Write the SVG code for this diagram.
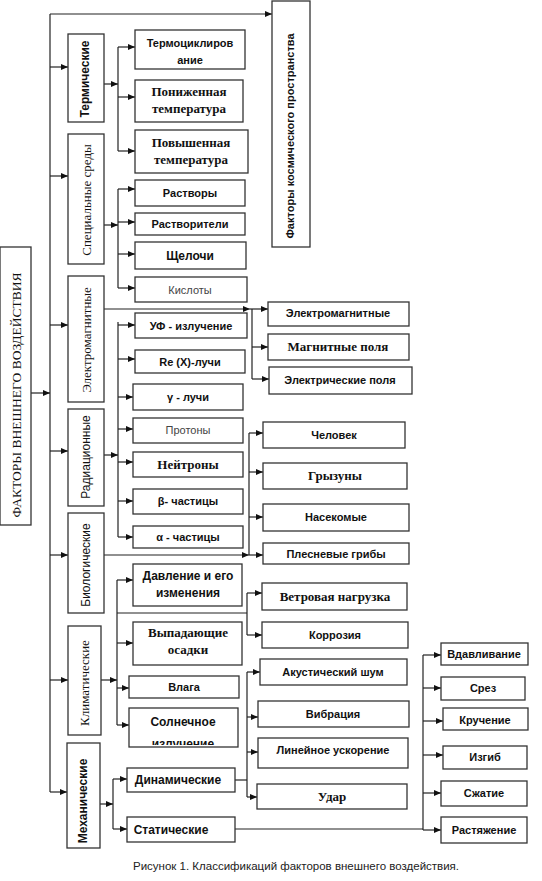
<svg xmlns="http://www.w3.org/2000/svg" width="542" height="881" viewBox="0 0 542 881">
<style>
rect{fill:#fff;stroke:#333;stroke-width:1.3}
text{fill:#111;text-anchor:middle}
.s{font-family:"Liberation Sans",Arial,sans-serif;font-size:11px;font-weight:bold}
.n{font-family:"Liberation Sans",Arial,sans-serif;font-size:11px;fill:#444}
.r{font-family:"Liberation Serif","Times New Roman",serif;font-size:13px;font-weight:bold}
.rn{font-family:"Liberation Serif","Times New Roman",serif;font-size:13px}
.v{dominant-baseline:central}
.c path{fill:none;stroke:#222;stroke-width:1.2}
.a{marker-end:url(#ar)}
</style>
<defs>
<marker id="ar" markerUnits="userSpaceOnUse" markerWidth="7" markerHeight="6" refX="7" refY="3" orient="auto"><path d="M0,0L7,3L0,6z" fill="#111"/></marker>
<clipPath id="clipSun"><rect x="129" y="708" width="109" height="37"/></clipPath>
</defs>

<g class="c" id="connectors">
<path d="M50,14V792"/>
<path class="a" d="M50,14H272"/>
<path class="a" d="M31,393H50"/>
<path class="a" d="M50,67H68"/>
<path class="a" d="M50,176H68"/>
<path class="a" d="M50,325H68"/>
<path class="a" d="M50,451H68"/>
<path class="a" d="M50,555H68"/>
<path class="a" d="M50,680H68"/>
<path class="a" d="M50,792H67"/>
<path class="a" d="M104,84H118"/>
<path d="M118,47V151"/>
<path class="a" d="M118,47H135"/>
<path class="a" d="M118,97H135"/>
<path class="a" d="M118,151H135"/>
<path class="a" d="M104,225H118"/>
<path d="M118,189V288"/>
<path class="a" d="M118,189H135"/>
<path class="a" d="M118,222H135"/>
<path class="a" d="M118,254H135"/>
<path class="a" d="M118,288H135"/>
<path class="a" d="M104,309H250"/>
<path class="a" d="M250,309H268"/>
<path d="M252,309V379"/>
<path class="a" d="M252,347H268"/>
<path class="a" d="M252,379H269"/>
<path class="a" d="M104,455H118"/>
<path d="M118,322V537"/>
<path class="a" d="M118,325H135"/>
<path class="a" d="M118,359H135"/>
<path class="a" d="M118,397H133"/>
<path class="a" d="M118,429H133"/>
<path class="a" d="M118,462H133"/>
<path class="a" d="M118,501H133"/>
<path class="a" d="M118,537H133"/>
<path class="a" d="M104,555H249"/>
<path class="a" d="M249,555H263"/>
<path d="M249,433V555"/>
<path class="a" d="M249,433H263"/>
<path class="a" d="M249,472H263"/>
<path class="a" d="M249,517H263"/>
<path class="a" d="M101,680H117"/>
<path d="M117,580V725"/>
<path class="a" d="M117,580H133"/>
<path class="a" d="M117,643H133"/>
<path class="a" d="M117,688H129"/>
<path class="a" d="M117,725H129"/>
<path d="M117,613H247"/>
<path d="M247,593V635"/>
<path class="a" d="M247,593H262"/>
<path class="a" d="M247,635H262"/>
<path class="a" d="M100,804H113"/>
<path d="M113,779V829"/>
<path class="a" d="M113,779H127"/>
<path class="a" d="M113,829H127"/>
<path d="M235,780H247"/>
<path d="M247,672V797"/>
<path class="a" d="M247,672H260"/>
<path class="a" d="M247,717H258"/>
<path class="a" d="M247,752H258"/>
<path class="a" d="M247,797H257"/>
<path d="M235,829H423"/>
<path d="M423,655V830"/>
<path class="a" d="M423,655H441"/>
<path class="a" d="M423,688H441"/>
<path class="a" d="M423,721H443"/>
<path class="a" d="M423,755H443"/>
<path class="a" d="M423,793H441"/>
<path class="a" d="M423,830H441"/>
</g>

<g id="main"><rect x="0" y="247" width="31" height="278"/><text class="rn v" style="font-size:13.5px" transform="translate(16,395) rotate(-90)">ФАКТОРЫ ВНЕШНЕГО ВОЗДЕЙСТВИЯ</text></g>
<g id="cosmos"><rect x="272" y="1" width="38" height="246"/><text class="s v" transform="translate(290,136) rotate(-90)">Факторы космического пространства</text></g>

<g id="thermal"><rect x="68" y="34" width="36" height="88"/><text class="s v" style="font-size:12px" transform="translate(85,79) rotate(-90)">Термические</text></g>
<g id="special"><rect x="68" y="134" width="36" height="130"/><text class="rn v" transform="translate(86,200) rotate(-90)">Специальные среды</text></g>
<g id="em"><rect x="68" y="276" width="36" height="126"/><text class="rn v" transform="translate(86,340) rotate(-90)">Электромагнитные</text></g>
<g id="rad"><rect x="68" y="409" width="36" height="97"/><text class="s v" style="font-size:12px;font-weight:normal" transform="translate(86,457) rotate(-90)">Радиационные</text></g>
<g id="bio"><rect x="68" y="513" width="36" height="100"/><text class="s v" style="font-size:12px;font-weight:normal" transform="translate(86,565) rotate(-90)">Биологические</text></g>
<g id="climate"><rect x="68" y="626" width="33" height="109"/><text class="rn v" transform="translate(84,683) rotate(-90)">Климатические</text></g>
<g id="mech"><rect x="67" y="743" width="33" height="105"/><text class="s v" style="font-size:12px" transform="translate(83,801) rotate(-90)">Механические</text></g>

<g id="thermocycle"><rect x="135" y="30" width="110" height="39"/><text class="s" x="190" y="47">Термоциклиров</text><text class="s" x="190" y="64">ание</text></g>
<g id="lowtemp"><rect x="135" y="80" width="108" height="42"/><text class="r" x="189" y="96">Пониженная</text><text class="r" x="189" y="113">температура</text></g>
<g id="hightemp"><rect x="135" y="130" width="113" height="43"/><text class="r" x="191" y="147">Повышенная</text><text class="r" x="191" y="164">температура</text></g>

<g id="solutions"><rect x="135" y="180" width="110" height="26"/><text class="s" x="190" y="197">Растворы</text></g>
<g id="solvents"><rect x="135" y="213" width="110" height="22"/><text class="s" x="190" y="228">Растворители</text></g>
<g id="alkali"><rect x="135" y="242" width="111" height="27"/><text class="s" style="font-size:12px" x="190" y="260">Щелочи</text></g>
<g id="acids"><rect x="135" y="277" width="112" height="25"/><text class="n" x="190" y="294">Кислоты</text></g>

<g id="uv"><rect x="135" y="313" width="112" height="25"/><text class="s" x="191" y="330">УФ - излучение</text></g>
<g id="xray"><rect x="135" y="350" width="110" height="23"/><text class="s" x="190" y="366">Re (X)-лучи</text></g>
<g id="gamma"><rect x="133" y="384" width="110" height="26"/><text class="s" x="188" y="401">γ - лучи</text></g>
<g id="protons"><rect x="133" y="418" width="110" height="25"/><text class="n" x="188" y="434">Протоны</text></g>
<g id="neutrons"><rect x="133" y="452" width="110" height="25"/><text class="r" x="188" y="469">Нейтроны</text></g>
<g id="beta"><rect x="133" y="489" width="110" height="25"/><text class="s" x="188" y="505">β- частицы</text></g>
<g id="alpha"><rect x="133" y="526" width="110" height="22"/><text class="s" x="188" y="541">α - частицы</text></g>

<g id="emw"><rect x="268" y="302" width="141" height="24"/><text class="s" x="338" y="317">Электромагнитные</text></g>
<g id="magnetic"><rect x="268" y="334" width="141" height="26"/><text class="r" x="338" y="351">Магнитные поля</text></g>
<g id="electric"><rect x="269" y="367" width="143" height="27"/><text class="s" x="340" y="384">Электрические поля</text></g>

<g id="human"><rect x="263" y="422" width="142" height="26"/><text class="s" x="334" y="439">Человек</text></g>
<g id="rodents"><rect x="263" y="463" width="144" height="26"/><text class="r" x="335" y="480">Грызуны</text></g>
<g id="insects"><rect x="263" y="504" width="146" height="27"/><text class="s" x="336" y="521">Насекомые</text></g>
<g id="mold"><rect x="263" y="543" width="146" height="21"/><text class="s" x="336" y="558">Плесневые грибы</text></g>

<g id="pressure"><rect x="133" y="564" width="109" height="42"/><text class="s" style="font-size:12px" x="188" y="580">Давление и его</text><text class="s" style="font-size:12px" x="188" y="597">изменения</text></g>
<g id="precip"><rect x="133" y="622" width="109" height="43"/><text class="r" x="188" y="637">Выпадающие</text><text class="r" x="188" y="654">осадки</text></g>
<g id="humidity"><rect x="129" y="676" width="110" height="22"/><text class="s" x="184" y="691">Влага</text></g>
<g id="solar"><rect x="129" y="708" width="109" height="39"/><text class="s" style="font-size:12px" x="183" y="726">Солнечное</text><text class="s" style="font-size:12px" x="183" y="748" clip-path="url(#clipSun)">излучение</text></g>

<g id="wind"><rect x="262" y="583" width="145" height="27"/><text class="r" x="335" y="601">Ветровая нагрузка</text></g>
<g id="corrosion"><rect x="262" y="622" width="146" height="26"/><text class="s" x="335" y="639">Коррозия</text></g>

<g id="dynamic"><rect x="127" y="768" width="108" height="24"/><text class="s" style="font-size:12px" x="178" y="784">Динамические</text></g>
<g id="static"><rect x="127" y="817" width="108" height="25"/><text class="s" style="font-size:12px" x="171" y="834">Статические</text></g>

<g id="acoustic"><rect x="260" y="659" width="147" height="26"/><text class="s" x="333" y="676">Акустический шум</text></g>
<g id="vibration"><rect x="258" y="701" width="151" height="26"/><text class="s" x="333" y="718">Вибрация</text></g>
<g id="accel"><rect x="258" y="738" width="150" height="30"/><text class="s" x="333" y="754">Линейное ускорение</text></g>
<g id="impact"><rect x="257" y="784" width="150" height="25"/><text class="r" x="332" y="801">Удар</text></g>

<g id="indent"><rect x="441" y="643" width="87" height="22"/><text class="s" x="484" y="658">Вдавливание</text></g>
<g id="shear"><rect x="441" y="677" width="84" height="23"/><text class="s" x="483" y="692">Срез</text></g>
<g id="torsion"><rect x="443" y="708" width="85" height="22"/><text class="s" x="485" y="724">Кручение</text></g>
<g id="bend"><rect x="443" y="746" width="84" height="23"/><text class="s" x="485" y="761">Изгиб</text></g>
<g id="compress"><rect x="441" y="781" width="86" height="25"/><text class="s" x="484" y="797">Сжатие</text></g>
<g id="tension"><rect x="441" y="817" width="86" height="26"/><text class="s" x="484" y="834">Растяжение</text></g>

<text x="296" y="870" style="font-family:'Liberation Sans',Arial,sans-serif;font-size:11.5px;fill:#222">Рисунок 1. Классификаций факторов внешнего воздействия.</text>
</svg>
